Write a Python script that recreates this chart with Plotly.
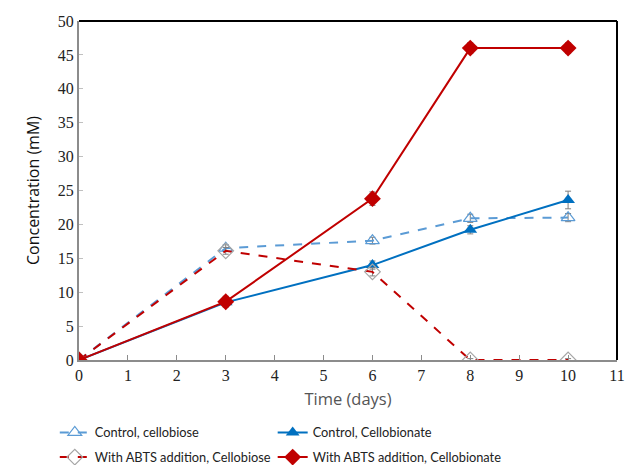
import plotly.graph_objects as go

days = [0, 3, 6, 8, 10]
ctrl_cellobiose = [0, 16.5, 17.6, 20.9, 21.0]
ctrl_cellobiose_err = [0.2, 0.5, 0.5, 0.6, 0.6]
ctrl_cellobionate = [0, 8.5, 14.0, 19.2, 23.6]
ctrl_cellobionate_err = [0.2, 0.6, 0.6, 0.6, 1.3]
abts_cellobiose = [0, 16.1, 13.0, 0, 0]
abts_cellobiose_err = [0.2, 0.5, 0.6, 0.2, 0.2]
abts_cellobionate = [0, 8.6, 23.8, 46.0, 46.0]
abts_cellobionate_err = [0.2, 0.8, 1.0, 0.8, 0.8]

x_ticks = list(range(0, 12))
y_ticks = list(range(0, 51, 5))

err_style = dict(type="data", color="#7f7f7f", thickness=1, width=3)

fig = go.Figure()
fig.add_trace(go.Scatter(
    x=days, y=ctrl_cellobiose, name="Control, cellobiose", mode="lines+markers",
    legend="legend", legendgroup="a",
    line=dict(color="#5B9BD5", width=2, dash="dash"),
    marker=dict(symbol="triangle-up-open", size=12, color="#5B9BD5", line=dict(width=1.2)),
    error_y=dict(array=ctrl_cellobiose_err, **err_style)))
fig.add_trace(go.Scatter(
    x=days, y=ctrl_cellobionate, name="Control, Cellobionate", mode="lines+markers",
    legend="legend2", legendgroup="b",
    line=dict(color="#0070C0", width=2),
    marker=dict(symbol="triangle-up", size=12, color="#0070C0"),
    error_y=dict(array=ctrl_cellobionate_err, **err_style)))
fig.add_trace(go.Scatter(
    x=days, y=abts_cellobiose, name="With ABTS addition, Cellobiose", mode="lines+markers",
    legend="legend", legendgroup="c",
    line=dict(color="#C00000", width=2, dash="dash"),
    marker=dict(symbol="diamond-open", size=12, color="#A6A6A6", line=dict(width=1.2)),
    error_y=dict(array=abts_cellobiose_err, **err_style)))
fig.add_trace(go.Scatter(
    x=days, y=abts_cellobionate, name="With ABTS addition, Cellobionate", mode="lines+markers",
    legend="legend2", legendgroup="d",
    line=dict(color="#C00000", width=2),
    marker=dict(symbol="diamond", size=13, color="#C00000"),
    error_y=dict(array=abts_cellobionate_err, **err_style)))

legend_common = dict(orientation="v", yanchor="top", y=-0.17,
                     font=dict(family="Lato, Liberation Sans", size=12.8, color="#222"),
                     tracegroupgap=5, itemwidth=30, bgcolor="rgba(0,0,0,0)")

fig.update_layout(
    width=627, height=465,
    margin=dict(l=79, r=10, t=21, b=105, autoexpand=False),
    plot_bgcolor="white", paper_bgcolor="white",
    legend=dict(x=-0.045, xanchor="left", **legend_common),
    legend2=dict(x=0.36, xanchor="left", **legend_common),
    xaxis=dict(range=[0, 11], tickvals=x_ticks, showgrid=False, zeroline=False,
               showline=True, linecolor="#8c8c8c", linewidth=2, automargin=False,
               ticks="inside", ticklen=5, tickcolor="#8c8c8c",
               tickfont=dict(family="Liberation Serif", size=16, color="#222"),
               title=dict(text="Time (days)", font=dict(family="Open Sans", size=16.5, color="#555"), standoff=10)),
    yaxis=dict(range=[0, 50], tickvals=y_ticks, showgrid=False, zeroline=False,
               showline=True, linecolor="#8c8c8c", linewidth=2, automargin=False,
               ticks="inside", ticklen=4, tickcolor="#c0c0c0",
               tickfont=dict(family="Liberation Serif", size=16, color="#222"),
               title=dict(text="Concentration (mM)", font=dict(family="Open Sans", size=16, color="#111"), standoff=14)),
)
fig.add_shape(type="line", xref="paper", yref="paper", x0=0, x1=1, y0=1, y1=1, line=dict(color="black", width=2))
fig.add_shape(type="line", xref="paper", yref="paper", x0=1, x1=1, y0=0, y1=1, line=dict(color="black", width=2))

fig.write_html("out.html")
